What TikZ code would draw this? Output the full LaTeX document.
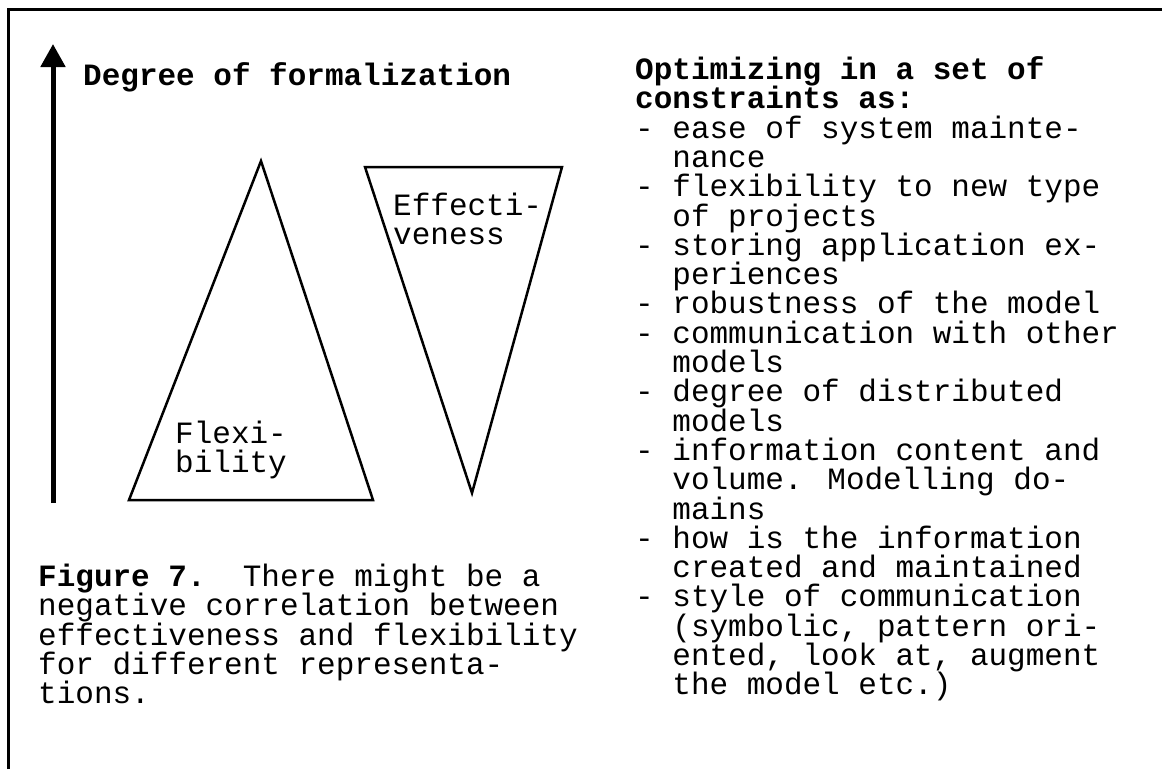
\documentclass[tikz,border=0pt]{standalone}
\usepackage{fontspec}
\setmainfont{Liberation Mono}
\usetikzlibrary{arrows.meta, positioning}
\newcommand{\ind}{\hspace*{1.2em}}
\tikzset{
    body/.style={font=\fontsize{31}{29.3}\selectfont, align=left, inner sep=0pt, anchor=base west},
    heading/.style={body, font=\fontsize{31}{29.3}\selectfont\bfseries},
    wedge/.style={draw, line width=2.5pt, line join=miter},
    axis/.style={-{Triangle[length=23pt, width=24pt]}, line width=5pt},
    frame/.style={draw, line width=3pt},
}

\begin{document}
\begin{tikzpicture}[x=1pt, y=-1pt]
    \useasboundingbox (0,0) rectangle (1162,769);
    % Frame
    \draw[frame] (8.7,769) -- (8.7,9) -- (1162,9);

    % Axis
    \coordinate (axisfoot) at (53,503);
    \coordinate (axistip) at (53,44);
    \draw[axis] (axisfoot) -- (axistip);
    \node[heading] (degree) at (83,85) {Degree of formalization};

    % Triangles (multi-line nodes sit on their last baseline)
    \draw[wedge] (129,500) -- (261,161) -- (373,500) -- cycle;
    \draw[wedge] (365,167) -- (562,167) -- (472,493) -- cycle;
    \node[body] (flex) at (175,472.3) {Flexi-\\bility};
    \node[body] (effect) at (393,244.3) {Effecti-\\veness};

    % Caption
    \node[body] (caption) at (38,703.7) {\textbf{Figure 7.}\ \ There might be a\\
        negative correlation between\\
        effectiveness and flexibility\\
        for different representa-\\
        tions.};

    % Constraints
    \node[body] (constraints) at (635,694.8) {\textbf{Optimizing in a set of}\\
        \textbf{constraints as:}\\
        - ease of system mainte-\\
        \ind nance\\
        - flexibility to new type\\
        \ind of projects\\
        - storing application ex-\\
        \ind periences\\
        - robustness of the model\\
        - communication with other\\
        \ind models\\
        - degree of distributed\\
        \ind models\\
        - information content and\\
        \ind volume. Modelling do-\\
        \ind mains\\
        - how is the information\\
        \ind created and maintained\\
        - style of communication\\
        \ind (symbolic, pattern ori-\\
        \ind ented, look at, augment\\
        \ind the model etc.)};
\end{tikzpicture}
\end{document}
